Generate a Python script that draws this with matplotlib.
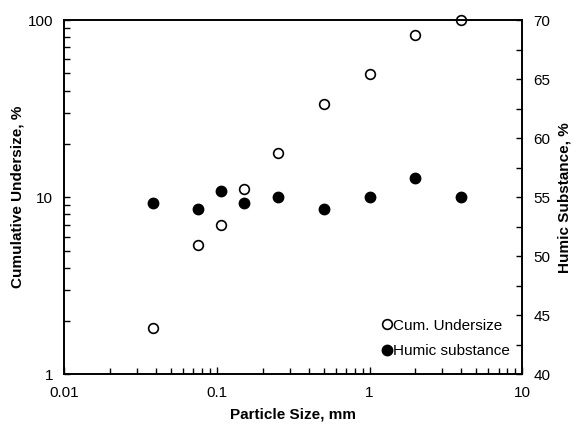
import matplotlib
matplotlib.use('Agg')
import matplotlib.pyplot as plt
from matplotlib.ticker import FuncFormatter, MultipleLocator, LogLocator, NullFormatter

# particle sizes (mm)
size_mm = [0.038, 0.075, 0.106, 0.15, 0.25, 0.5, 1, 2, 4]
cum_undersize = [1.82, 5.4, 7.0, 11.1, 17.8, 33.8, 49.5, 82.5, 100]  # %
humic = [54.5, 54.0, 55.5, 54.5, 55.0, 54.0, 55.0, 56.6, 55.0]  # %

plt.rcParams['font.family'] = ['Liberation Sans', 'DejaVu Sans']
plt.rcParams['font.size'] = 11

fig = plt.figure(figsize=(5.81, 4.26), dpi=100)
ax = fig.add_axes([0.1107, 0.121, 0.788, 0.832])
ax2 = ax.twinx()

l1, = ax.plot(size_mm, cum_undersize, 'o', mfc='white', mec='black', mew=1.2,
              ms=7, label='Cum. Undersize', clip_on=False)
l2, = ax2.plot(size_mm, humic, 'o', mfc='black', mec='black', ms=7.5,
               label='Humic substance', clip_on=False)

ax.set_xscale('log')
ax.set_yscale('log')
ax.set_xlim(0.01, 10)
ax.set_ylim(1, 100)
ax2.set_ylim(40, 70)

fmt = FuncFormatter(lambda v, p: '{:g}'.format(v))
ax.xaxis.set_major_formatter(fmt)
ax.yaxis.set_major_formatter(fmt)
ax.xaxis.set_minor_locator(LogLocator(base=10, subs=range(2, 10)))
ax.yaxis.set_minor_locator(LogLocator(base=10, subs=range(2, 10)))
ax.xaxis.set_minor_formatter(NullFormatter())
ax.yaxis.set_minor_formatter(NullFormatter())
ax2.yaxis.set_major_locator(MultipleLocator(5))
ax2.yaxis.set_minor_locator(MultipleLocator(2.5))

ax.tick_params(which='both', direction='in', top=False, right=False,
               length=4, width=1, labelsize=11)
ax.tick_params(axis='x', which='major', length=5, pad=8)
ax.tick_params(axis='y', which='major', pad=8)
ax2.tick_params(which='both', direction='in', length=4, width=1, labelsize=11, pad=8)

for a in (ax, ax2):
    for s in a.spines.values():
        s.set_linewidth(1.2)

ax.set_xlabel('Particle Size, mm', fontweight='bold', fontsize=11, labelpad=6)
ax.set_ylabel('Cumulative Undersize, %', fontweight='bold', fontsize=11, labelpad=2)
ax2.set_ylabel('Humic Substance, %', fontweight='bold', fontsize=11, labelpad=5)

ax2.legend(handles=[l1, l2], loc='lower right', frameon=False,
           handlelength=0.6, handletextpad=0.1, labelspacing=0.75,
           borderaxespad=0.3, bbox_to_anchor=(0.997, 0.016), fontsize=11)

fig.savefig('out.png', dpi=100)
